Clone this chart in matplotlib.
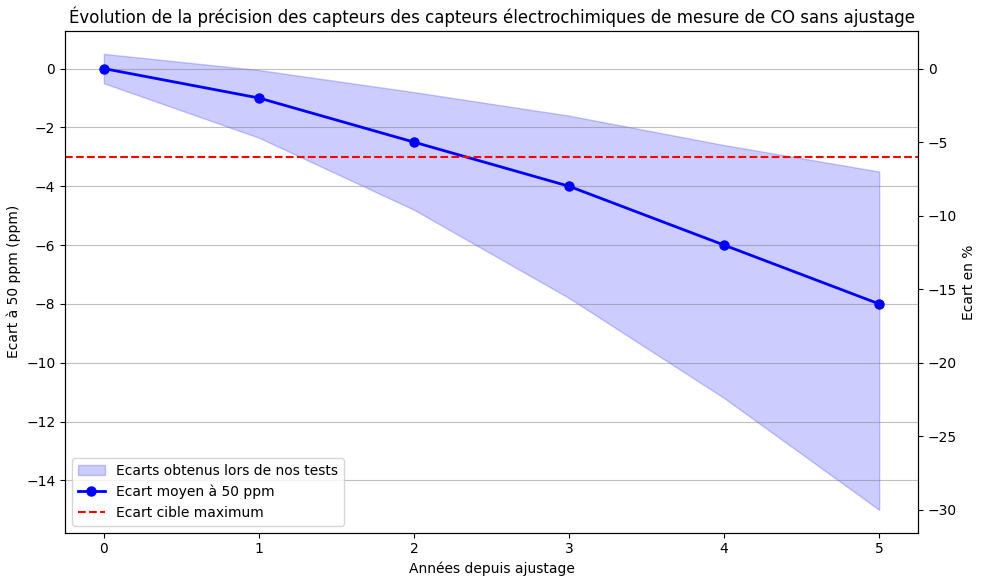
import numpy as np
import matplotlib
matplotlib.use("Agg")
import matplotlib.pyplot as plt

annees = [0, 1, 2, 3, 4, 5]
ecart_moyen = [0, -1, -2.5, -4, -6, -8]
ecart_haut = [0.5, -0.05, -0.8, -1.6, -2.6, -3.5]
ecart_bas = [-0.5, -2.35, -4.8, -7.8, -11.2, -15]
ecart_cible = -3
ppm_ref = 50

fig, ax = plt.subplots(figsize=(9.86, 5.86), dpi=100)

ax.fill_between(annees, ecart_bas, ecart_haut, color='blue', alpha=0.2,
                label='Ecarts obtenus lors de nos tests')
ax.plot(annees, ecart_moyen, color='blue', marker='o', markersize=6.5, linewidth=2,
        label='Ecart moyen à 50 ppm')
ax.axhline(ecart_cible, color='red', linestyle='--', label='Ecart cible maximum')

ax.set_xlabel('Années depuis ajustage')
ax.set_ylabel('Ecart à 50 ppm (ppm)')
ax.set_title('Évolution de la précision des capteurs des capteurs électrochimiques de mesure de CO sans ajustage')
ax.grid(axis='y', color='gray', alpha=0.5)
ax.legend(loc='lower left')

# axe de droite en pourcentage
ax2 = ax.twinx()
y0, y1 = ax.get_ylim()
ax2.set_ylim(y0 / ppm_ref * 100, y1 / ppm_ref * 100)
ax2.set_ylabel('Ecart en %')

fig.subplots_adjust(left=0.066, right=0.931, top=0.947, bottom=0.091)
fig.savefig('out.png', dpi=100)
